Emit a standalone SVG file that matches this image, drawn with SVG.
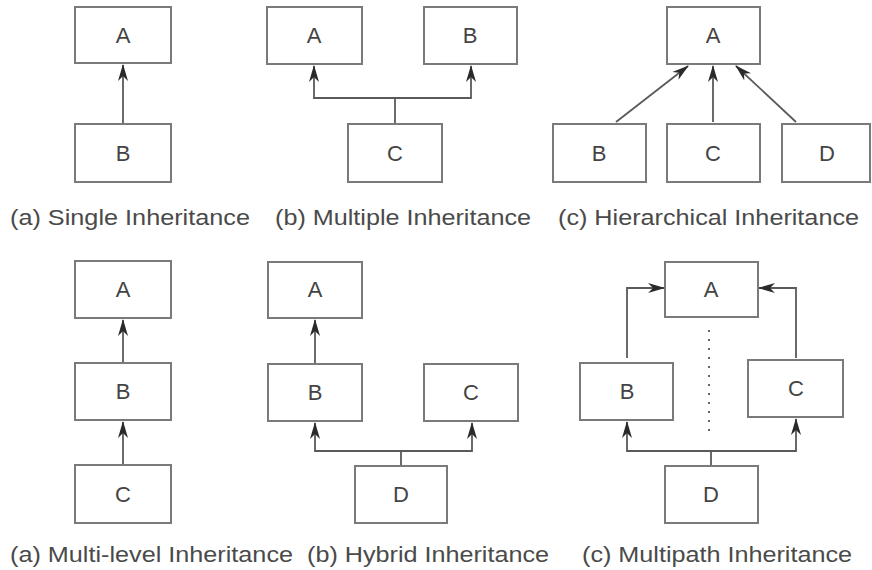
<svg xmlns="http://www.w3.org/2000/svg" width="872" height="570" viewBox="0 0 872 570">
<style>
  .box{fill:#fff;stroke:#7a7a7a;stroke-width:2}
  .lbl{font-family:"Liberation Sans",Arial,sans-serif;font-size:22px;fill:#444;text-anchor:middle}
  .cap{font-family:"Liberation Sans",Arial,sans-serif;font-size:22px;fill:#4a4a4a}
  .ln{fill:none;stroke:#5a5a5a;stroke-width:1.8}
  .arr{marker-end:url(#ah)}
  .dot{fill:none;stroke:#666;stroke-width:2;stroke-dasharray:2 7}
</style>
<defs>
  <marker id="ah" viewBox="0 0 17 11" refX="16" refY="5.5" markerWidth="17" markerHeight="11" markerUnits="userSpaceOnUse" orient="auto">
    <path d="M0,0.5 L17,5.5 L0,10.5 L5,5.5 z" fill="#2a2a2a"/>
  </marker>
</defs>
<rect width="872" height="570" fill="#fff"/>

<g id="connectors">
  <!-- single -->
  <line class="ln arr" x1="123" y1="123" x2="123" y2="65"/>
  <!-- multiple -->
  <polyline class="ln" points="395,123 395,98"/>
  <polyline class="ln arr" points="395,98 314,98 314,66"/>
  <polyline class="ln arr" points="395,98 471,98 471,66"/>
  <!-- hierarchical -->
  <line class="ln arr" x1="616" y1="122" x2="688" y2="66"/>
  <line class="ln arr" x1="713" y1="122" x2="713" y2="66"/>
  <line class="ln arr" x1="796" y1="122" x2="736" y2="66"/>
  <!-- multi-level -->
  <line class="ln arr" x1="123" y1="362" x2="123" y2="320"/>
  <line class="ln arr" x1="123" y1="464" x2="123" y2="422"/>
  <!-- hybrid -->
  <line class="ln arr" x1="315" y1="363" x2="315" y2="320"/>
  <polyline class="ln" points="401,465 401,451"/>
  <polyline class="ln arr" points="401,451 315,451 315,423"/>
  <polyline class="ln arr" points="401,451 472,451 472,423"/>
  <!-- multipath -->
  <polyline class="ln arr" points="627,358 627,288 664,288"/>
  <polyline class="ln arr" points="796,358 796,288 759,288"/>
  <line class="dot" x1="709" y1="330" x2="709" y2="436"/>
  <polyline class="ln" points="711,465 711,451"/>
  <polyline class="ln arr" points="711,451 627,451 627,422"/>
  <polyline class="ln arr" points="711,451 796,451 796,419"/>
</g>

<!-- (a) Single -->
<g id="single-A"><rect class="box" x="75" y="7" width="96" height="56"/><text class="lbl" x="123" y="43">A</text></g>
<g id="single-B"><rect class="box" x="75" y="124" width="96" height="58"/><text class="lbl" x="123" y="161">B</text></g>

<!-- (b) Multiple -->
<g id="multiple-A"><rect class="box" x="267" y="7" width="95" height="57"/><text class="lbl" x="314" y="43">A</text></g>
<g id="multiple-B"><rect class="box" x="424" y="7" width="93" height="57"/><text class="lbl" x="470" y="43">B</text></g>
<g id="multiple-C"><rect class="box" x="348" y="124" width="94" height="58"/><text class="lbl" x="395" y="161">C</text></g>

<!-- (c) Hierarchical -->
<g id="hier-A"><rect class="box" x="667" y="7" width="93" height="57"/><text class="lbl" x="713" y="43">A</text></g>
<g id="hier-B"><rect class="box" x="553" y="124" width="93" height="58"/><text class="lbl" x="599" y="161">B</text></g>
<g id="hier-C"><rect class="box" x="667" y="124" width="93" height="58"/><text class="lbl" x="713" y="161">C</text></g>
<g id="hier-D"><rect class="box" x="782" y="124" width="88" height="58"/><text class="lbl" x="827" y="161">D</text></g>

<!-- (a) Multi-level -->
<g id="multilevel-A"><rect class="box" x="75" y="261" width="96" height="57"/><text class="lbl" x="123" y="297">A</text></g>
<g id="multilevel-B"><rect class="box" x="75" y="363" width="96" height="57"/><text class="lbl" x="123" y="399">B</text></g>
<g id="multilevel-C"><rect class="box" x="75" y="465" width="96" height="58"/><text class="lbl" x="123" y="502">C</text></g>

<!-- (b) Hybrid -->
<g id="hybrid-A"><rect class="box" x="268" y="262" width="94" height="56"/><text class="lbl" x="315" y="297">A</text></g>
<g id="hybrid-B"><rect class="box" x="268" y="364" width="94" height="57"/><text class="lbl" x="315" y="400">B</text></g>
<g id="hybrid-C"><rect class="box" x="424" y="364" width="94" height="57"/><text class="lbl" x="471" y="400">C</text></g>
<g id="hybrid-D"><rect class="box" x="355" y="466" width="92" height="57"/><text class="lbl" x="401" y="502">D</text></g>

<!-- (c) Multipath -->
<g id="multipath-A"><rect class="box" x="665" y="262" width="93" height="55"/><text class="lbl" x="711" y="297">A</text></g>
<g id="multipath-B"><rect class="box" x="580" y="363" width="93" height="57"/><text class="lbl" x="627" y="399">B</text></g>
<g id="multipath-C"><rect class="box" x="748" y="360" width="95" height="57"/><text class="lbl" x="796" y="396">C</text></g>
<g id="multipath-D"><rect class="box" x="665" y="466" width="93" height="57"/><text class="lbl" x="711" y="502">D</text></g>

<g id="captions">
  <text class="cap" x="10" y="225" textLength="240" lengthAdjust="spacingAndGlyphs">(a) Single Inheritance</text>
  <text class="cap" x="275" y="225" textLength="256" lengthAdjust="spacingAndGlyphs">(b) Multiple Inheritance</text>
  <text class="cap" x="558" y="225" textLength="301" lengthAdjust="spacingAndGlyphs">(c) Hierarchical Inheritance</text>
  <text class="cap" x="10" y="562" textLength="283" lengthAdjust="spacingAndGlyphs">(a) Multi-level Inheritance</text>
  <text class="cap" x="307" y="562" textLength="242" lengthAdjust="spacingAndGlyphs">(b) Hybrid Inheritance</text>
  <text class="cap" x="582" y="562" textLength="270" lengthAdjust="spacingAndGlyphs">(c) Multipath Inheritance</text>
</g>
</svg>
